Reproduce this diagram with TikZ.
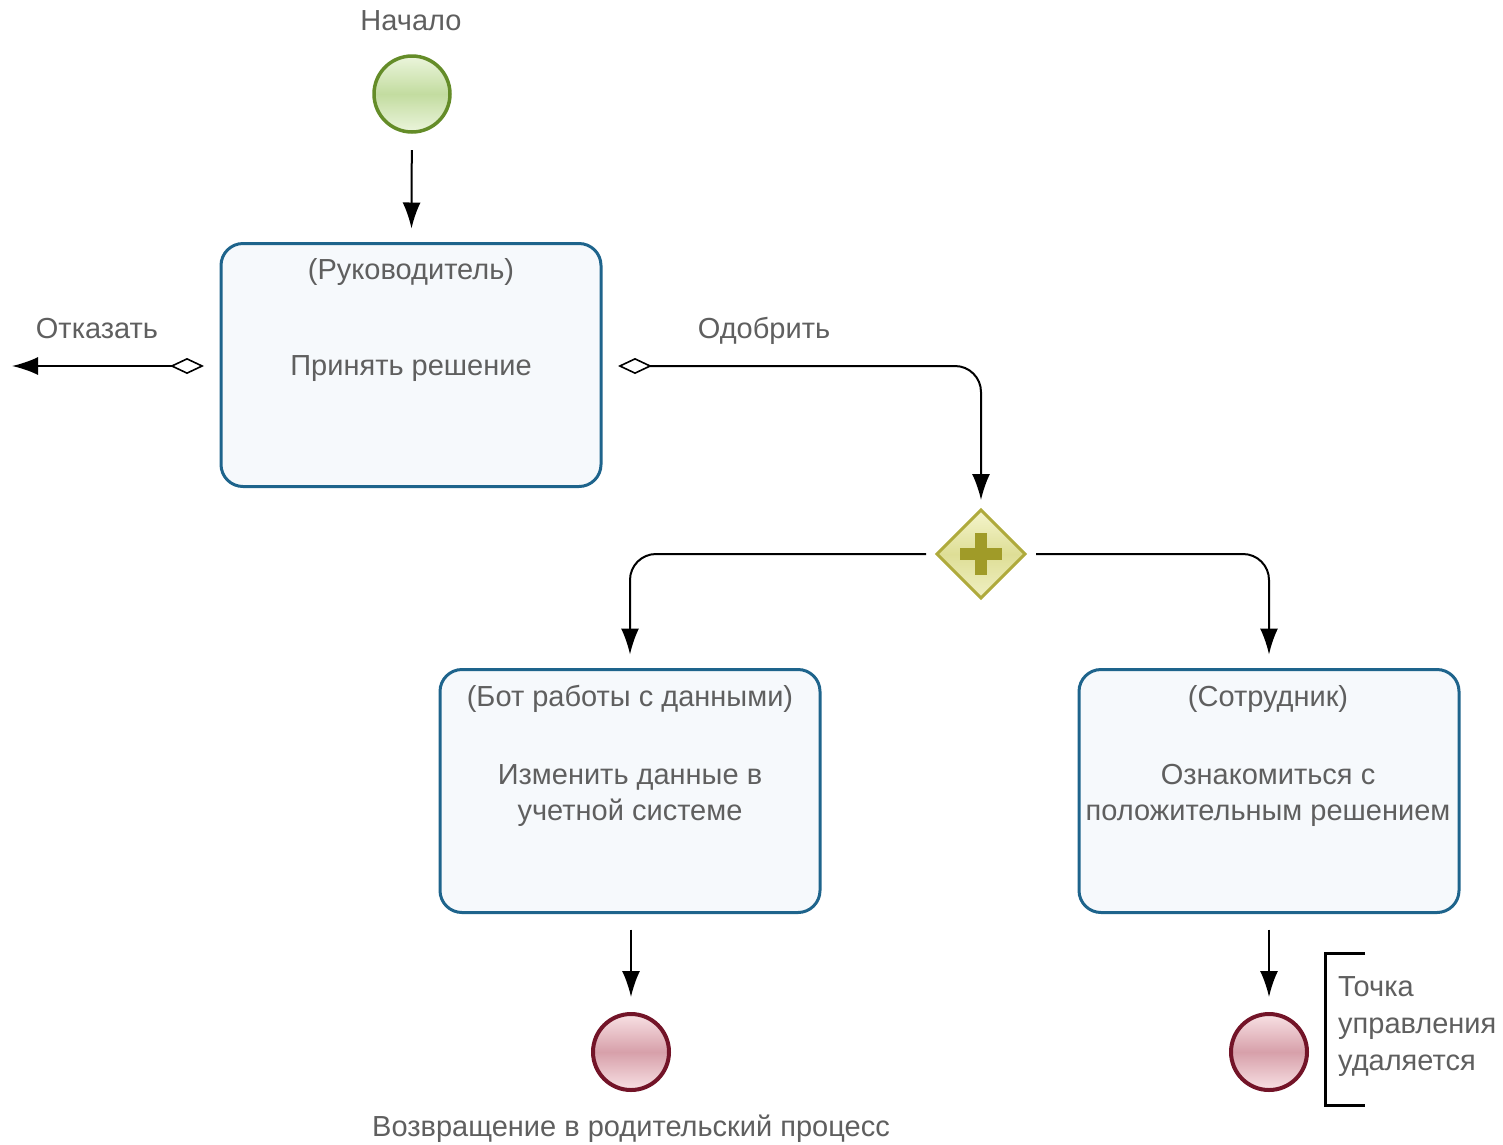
\documentclass[tikz,border=0pt]{standalone}
\usepackage{fontspec}
\setmainfont{Liberation Sans}
\usetikzlibrary{arrows.meta,shapes.geometric}
\definecolor{txt}{RGB}{95,95,95}
\definecolor{taskline}{RGB}{30,100,140}
\definecolor{taskfill}{RGB}{246,249,252}
\definecolor{startline}{RGB}{100,140,40}
\definecolor{endline}{RGB}{115,20,40}
\definecolor{gwline}{RGB}{175,170,60}
\definecolor{gwplus}{RGB}{160,155,40}
\tikzset{
  lbl/.style={font=\fontsize{29}{35}\selectfont, text=txt, align=center, inner sep=0},
  task/.style={draw=taskline, line width=3pt, fill=taskfill, rounded corners=22pt,
    minimum width=380pt, minimum height=243pt, inner sep=0, outer sep=0},
  startev/.style={circle, draw=startline, line width=3.5pt, inner sep=0, outer sep=0, minimum size=76pt,
    top color={rgb,255:red,235;green,245;blue,220}, bottom color={rgb,255:red,235;green,245;blue,220}, middle color={rgb,255:red,195;green,220;blue,160}},
  endev/.style={circle, draw=endline, line width=4pt, inner sep=0, outer sep=0, minimum size=76pt,
    top color={rgb,255:red,248;green,225;blue,228}, bottom color={rgb,255:red,248;green,225;blue,228}, middle color={rgb,255:red,215;green,160;blue,170}},
  gwst/.style={diamond, draw=gwline, line width=3pt, inner sep=0, outer sep=0, minimum size=88pt,
    top color={rgb,255:red,245;green,245;blue,205}, bottom color={rgb,255:red,240;green,240;blue,195}, middle color={rgb,255:red,222;green,222;blue,150}},
  flow/.style={line width=2pt, -{Latex[length=26pt,width=18pt]}},
  cond/.style={line width=2pt, {Diamond[open,length=34pt,width=16pt,line width=1.6pt]}-{Latex[length=26pt,width=18pt]}},
}
\begin{document}
\begin{tikzpicture}[x=1pt,y=-1pt]
\useasboundingbox (0,0) rectangle (1503,1144);
% start
\node[startev] (start) at (412,94) {};
\node[lbl, anchor=base] (startlbl) at (411,30) {Начало};
% task 1
\node[task] (t1) at (411,365) {};
\node[lbl, anchor=base] (t1a) at (411,279) {(Руководитель)};
\node[lbl, anchor=base] (t1b) at (411,375) {Принять решение};
% gateway
\node[gwst] (gw) at (981,554) {};
\fill[gwplus] (gw.center) ++(-6,-21) rectangle ++(12,42);
\fill[gwplus] (gw.center) ++(-21,-6) rectangle ++(42,12);
% task 2, 3
\node[task] (t2) at (630,791) {};
\node[lbl, anchor=base] (t2a) at (630,706) {(Бот работы с данными)};
\node[lbl, anchor=base] (t2b) at (630,784) {Изменить данные в};
\node[lbl, anchor=base] (t2c) at (630,820) {учетной системе};
\node[task] (t3) at (1269,791) {};
\node[lbl, anchor=base] (t3a) at (1268,706) {(Сотрудник)};
\node[lbl, anchor=base] (t3b) at (1268,784) {Ознакомиться с};
\node[lbl, anchor=base] (t3c) at (1268,820) {положительным решением};
% end events
\node[endev] (e1) at (631,1052) {};
\node[lbl, anchor=base] (e1lbl) at (631,1136) {Возвращение в родительский процесс};
\node[endev] (e2) at (1269,1052) {};
% annotation
\coordinate (anntop) at (1365,953);
\coordinate (annbot) at (1365,1105);
\draw[line width=3pt] (anntop) -- ++(-40,0) |- (annbot);
\node[lbl, anchor=base west, align=left] (ann1) at (1338,996) {Точка};
\node[lbl, anchor=base west, align=left] (ann2) at (1338,1033) {управления};
\node[lbl, anchor=base west, align=left] (ann3) at (1338,1070) {удаляется};
% refuse target
\coordinate (rej) at (12,366);
\node[lbl, anchor=base] (rejlbl) at (97,338) {Отказать};
\node[lbl, anchor=base] (applbl) at (764,338) {Одобрить};
% connectors
\draw[flow, shorten <=18pt, shorten >=15pt] (start) -- (t1);
\draw[cond, shorten <=17pt] (t1.west |- 0,366) -- (rej);
\draw[cond, shorten <=17pt, shorten >=10pt, rounded corners=26pt] (t1.east |- 0,366) -| (gw.north);
\draw[flow, shorten <=11pt, shorten >=15pt, rounded corners=26pt] (gw.west) -| (t2.north);
\draw[flow, shorten <=11pt, shorten >=15pt, rounded corners=26pt] (gw.east) -| (t3.north -| 1269,0);
\draw[flow, shorten <=17pt, shorten >=17pt] (t2.south -| e1) -- (e1);
\draw[flow, shorten <=17pt, shorten >=17pt] (t3) -- (e2);
\end{tikzpicture}
\end{document}
